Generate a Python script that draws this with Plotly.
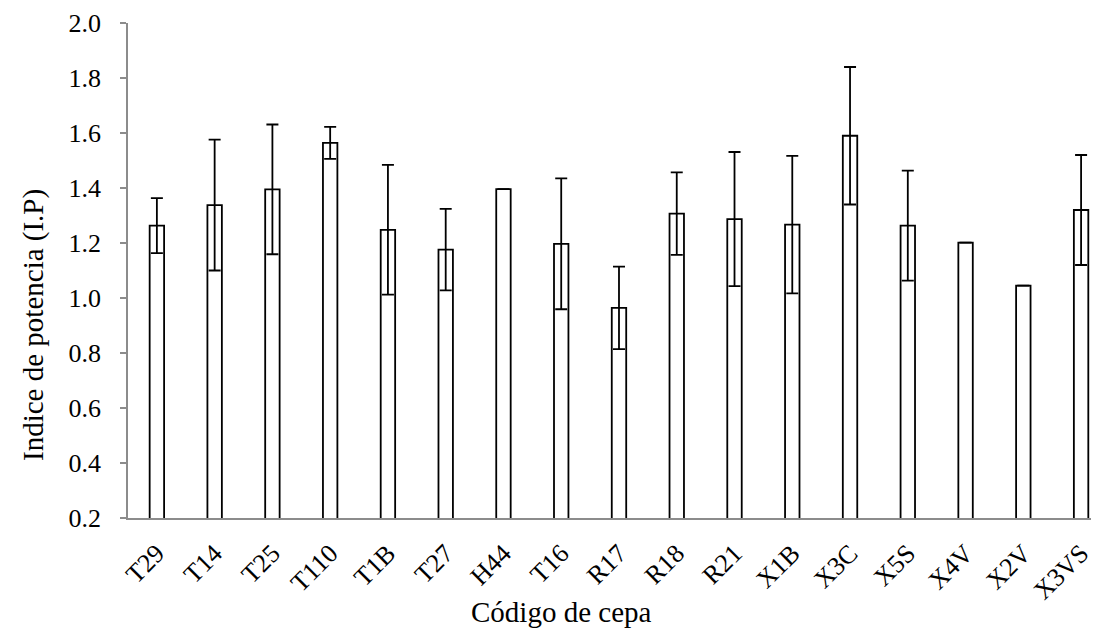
import plotly.graph_objects as go

categories = ["T29", "T14", "T25", "T110", "T1B", "T27", "H44", "T16", "R17",
              "R18", "R21", "X1B", "X3C", "X5S", "X4V", "X2V", "X3VS"]
values = [1.263, 1.338, 1.395, 1.564, 1.248, 1.176, 1.396, 1.197, 0.964,
          1.307, 1.287, 1.267, 1.590, 1.263, 1.201, 1.045, 1.320]
errors = [0.100, 0.238, 0.236, 0.058, 0.236, 0.148, 0.0, 0.238, 0.150,
          0.150, 0.244, 0.250, 0.250, 0.200, 0.0, 0.0, 0.200]
y_ticks = [0.2, 0.4, 0.6, 0.8, 1.0, 1.2, 1.4, 1.6, 1.8, 2.0]

FONT = "Liberation Serif, Times New Roman, serif"
AXIS_GRAY = "#8c8c8c"

fig = go.Figure()
fig.add_trace(go.Bar(
    x=categories, y=values, width=0.25,
    marker=dict(color="white", line=dict(color="black", width=1.8)),
    error_y=dict(type="data", array=errors, visible=True,
                 color="black", thickness=1.8, width=6),
    showlegend=False,
))

# page body has an 8px default margin, so the figure is sized to fit
fig.update_layout(
    width=1091, height=620,
    margin=dict(l=120, r=0, t=15, b=110, autoexpand=False),
    paper_bgcolor="white", plot_bgcolor="white",
    font=dict(family=FONT, size=26, color="black"),
    bargap=0.75,
)
fig.update_xaxes(
    type="category", range=[-0.5, 16.31], automargin=False,
    showline=True, linecolor=AXIS_GRAY, linewidth=1.5,
    ticks="", tickangle=-45, showgrid=False, zeroline=False,
    tickfont=dict(family=FONT, size=26, color="black"),
    ticklabelstandoff=8,
)
fig.update_yaxes(
    range=[0.2, 2.0], tickvals=y_ticks, tickformat=".1f", automargin=False,
    showline=True, linecolor=AXIS_GRAY, linewidth=1.5,
    ticks="outside", ticklen=6, tickcolor=AXIS_GRAY, tickwidth=1.5,
    showgrid=False, zeroline=False,
    tickfont=dict(family=FONT, size=26, color="black"),
    ticklabelstandoff=14,
)

fig.add_annotation(text="Código de cepa", xref="paper", yref="paper",
                   x=(561 - 128) / 971, y=(518 - 612) / 495,
                   xanchor="center", yanchor="middle", showarrow=False,
                   font=dict(family=FONT, size=29, color="black"))
fig.add_annotation(text="Indice de potencia (I.P)", xref="paper", yref="paper",
                   x=(34 - 128) / 971, y=(518 - 325) / 495, textangle=-90,
                   xanchor="center", yanchor="middle", showarrow=False,
                   font=dict(family=FONT, size=29, color="black"))

fig.write_html("out.html")
